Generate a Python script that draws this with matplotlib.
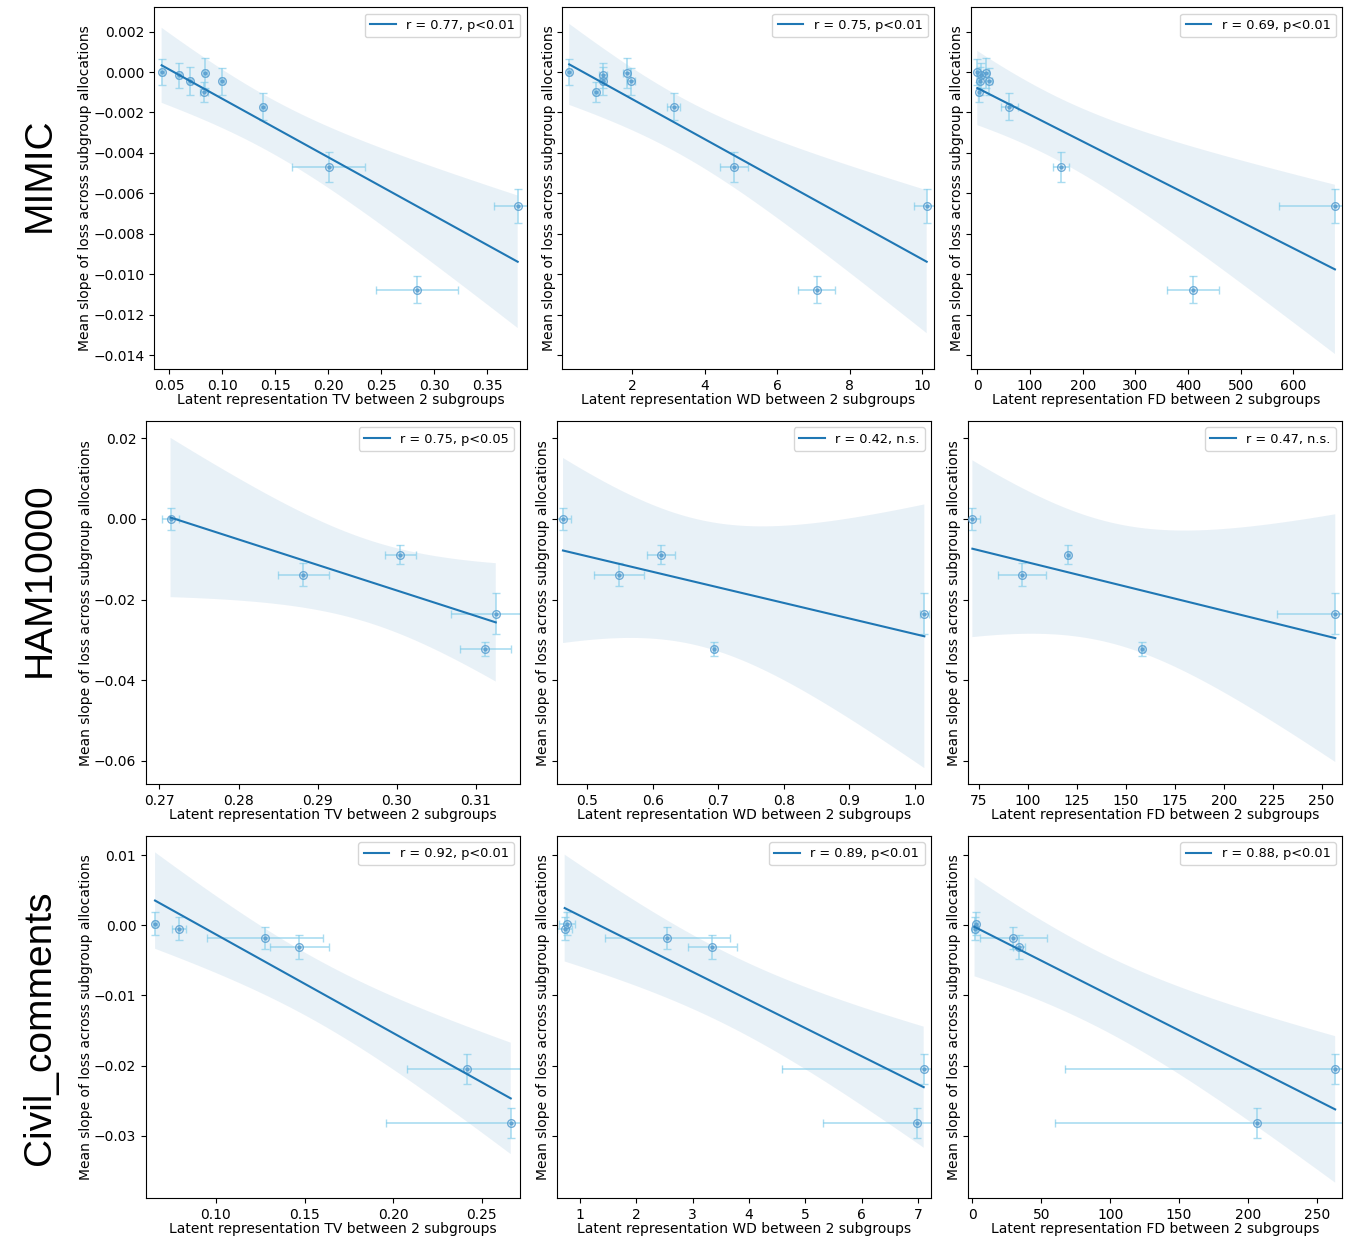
import matplotlib
matplotlib.use("Agg")
import matplotlib.pyplot as plt
import numpy as np

# ---- data ----
# MIMIC
mimic_y = [0.00000, -0.00016, -0.00046, -0.00007, -0.00097, -0.00046, -0.00172, -0.00469, -0.01076, -0.00663]
mimic_yerr = [0.00064, 0.00063, 0.00070, 0.00074, 0.00050, 0.00068, 0.00066, 0.00074, 0.00066, 0.00083]
mimic_tv = [0.043, 0.0597, 0.0695, 0.0837, 0.083, 0.1003, 0.1387, 0.2006, 0.2837, 0.379]
mimic_tv_err = [0.002, 0.002, 0.002, 0.002, 0.004, 0.002, 0.002, 0.0347, 0.0388, 0.022]
mimic_wd = [0.26, 1.18, 1.20, 1.85, 1.00, 1.97, 3.14, 4.80, 7.09, 10.12]
mimic_wd_err = [0.05, 0.11, 0.05, 0.10, 0.05, 0.11, 0.18, 0.38, 0.51, 0.34]
mimic_fd = [0, 8, 5, 16.5, 3.8, 22, 60.8, 159, 409.6, 679]
mimic_fd_err = [2, 3, 3, 5, 2, 5, 16, 16, 49, 106]

# HAM10000
ham_y = [0.0, -0.0138, -0.00884, -0.02347, -0.03223]
ham_yerr = [0.0027, 0.0028, 0.0023, 0.0051, 0.0018]
ham_tv = [0.2714, 0.2882, 0.3004, 0.3125, 0.3112]
ham_tv_err = [0.0011, 0.0032, 0.00196, 0.0057, 0.0032]
ham_wd = [0.4629, 0.5489, 0.6125, 1.0148, 0.6938]
ham_wd_err = [0.013, 0.0384, 0.0209, 0.0071, 0.002]
ham_fd = [71.6, 97.0, 120.7, 257.0, 158.5]
ham_fd_err = [3.9, 12.1, 1.0, 29.8, 1.0]

# Civil_comments
civil_y = [0.00024, -0.00048, -0.00181, -0.00314, -0.02054, -0.02815]
civil_yerr = [0.00164, 0.0016, 0.0016, 0.0017, 0.00214, 0.00214]
civil_tv = [0.0656, 0.0791, 0.1277, 0.1470, 0.2419, 0.2664]
civil_tv_err = [0.001, 0.004, 0.0327, 0.0166, 0.0343, 0.0706]
civil_wd = [0.775, 0.728, 2.545, 3.349, 7.10, 6.99]
civil_wd_err = [0.14, 0.13, 1.11, 0.435, 2.52, 1.67]
civil_fd = [2.4, 1.5, 29.6, 33.7, 263.4, 207]
civil_fd_err = [1.5, 1.5, 24.2, 4.4, 196, 147]

datasets = ["MIMIC", "HAM10000", "Civil_comments"]
metrics = ["TV", "WD", "FD"]

labels = [["r = 0.77, p<0.01", "r = 0.75, p<0.01", "r = 0.69, p<0.01"],
          ["r = 0.75, p<0.05", "r = 0.42, n.s.", "r = 0.47, n.s."],
          ["r = 0.92, p<0.01", "r = 0.89, p<0.01", "r = 0.88, p<0.01"]]

rows = [
    (mimic_y, mimic_yerr, [(mimic_tv, mimic_tv_err), (mimic_wd, mimic_wd_err), (mimic_fd, mimic_fd_err)]),
    (ham_y, ham_yerr, [(ham_tv, ham_tv_err), (ham_wd, ham_wd_err), (ham_fd, ham_fd_err)]),
    (civil_y, civil_yerr, [(civil_tv, civil_tv_err), (civil_wd, civil_wd_err), (civil_fd, civil_fd_err)]),
]

xlims = [[(0.0358, 0.3875), (0.069, 10.33), (-12.5, 693)],
         [(0.2683, 0.3156), (0.4533, 1.0250), (69.1, 260.6)],
         [(0.0605, 0.2718), (0.586, 7.23), (-3.6, 268.6)]]
ylims = [(-0.0147, 0.0032), (-0.0658, 0.0243), (-0.03894, 0.01278)]

# 97.5% Student t quantiles by degrees of freedom
t975 = {3: 3.182, 4: 2.776, 8: 2.306}

# axes boxes in pixels: (left, top, width, height)
W, H = 1350, 1244
boxes = [[(154, 7.3, 372.7, 362), (562.3, 7.3, 372, 362), (970.7, 7.3, 371.6, 362)],
         [(146, 421, 374.3, 363.3), (556.7, 421, 374.3, 363.3), (967.5, 421, 374.8, 363.3)],
         [(146, 835.7, 374.3, 362.6), (556.7, 835.7, 374.3, 362.6), (967.5, 835.7, 374.8, 362.6)]]
row_label_y = [175, 580, 1028]

line_c = "#1f77b4"
err_c = "#87ceeb"
mark_c = "#5b9fd0"


def fit_band(x, y):
    x = np.asarray(x, float)
    y = np.asarray(y, float)
    n = len(x)
    b, a = np.polyfit(x, y, 1)
    s = np.sqrt(np.sum((y - (a + b * x)) ** 2) / (n - 2))
    grid = np.linspace(x.min(), x.max(), 200)
    fit = a + b * grid
    half = t975[n - 2] * s * np.sqrt(1 / n + (grid - x.mean()) ** 2 / np.sum((x - x.mean()) ** 2))
    return grid, fit, fit - half, fit + half


fig = plt.figure(figsize=(13.5, 12.44), dpi=100)

for i, (y, yerr, cols) in enumerate(rows):
    for j, (x, xerr) in enumerate(cols):
        l, t, w, h = boxes[i][j]
        ax = fig.add_axes([l / W, 1 - (t + h) / H, w / W, h / H])
        ax.errorbar(x, y, xerr=xerr, yerr=yerr, fmt="none", ecolor=err_c,
                    alpha=0.7, capsize=3, elinewidth=1.2, zorder=2)
        ax.plot(x, y, "o", ms=5.5, mfc="none", mec=mark_c, mew=1.0, alpha=0.85, zorder=3)
        ax.plot(x, y, "o", ms=2.2, color=mark_c, alpha=0.85, zorder=3)
        grid, fit, lo, hi = fit_band(x, y)
        ax.fill_between(grid, lo, hi, color=line_c, alpha=0.1, lw=0.8,
                        edgecolor="white", linestyle="--", zorder=1)
        ax.plot(grid, fit, color=line_c, lw=1.5, label=labels[i][j], zorder=4)
        ax.set_xlim(*xlims[i][j])
        ax.set_ylim(*ylims[i])
        ax.set_xlabel("Latent representation %s between 2 subgroups" % metrics[j],
                      fontsize=10, labelpad=0)
        ax.set_ylabel("Mean slope of loss across subgroup allocations",
                      fontsize=10, labelpad=1)
        if j > 0:
            ax.tick_params(axis="y", labelleft=False)
        ax.legend(loc="upper right", fontsize=9.3)
    fig.text(40 / W, 1 - row_label_y[i] / H, datasets[i], rotation=90,
             ha="center", va="center", fontsize=28, family="Liberation Sans")

fig.savefig("out.png", dpi=100)
